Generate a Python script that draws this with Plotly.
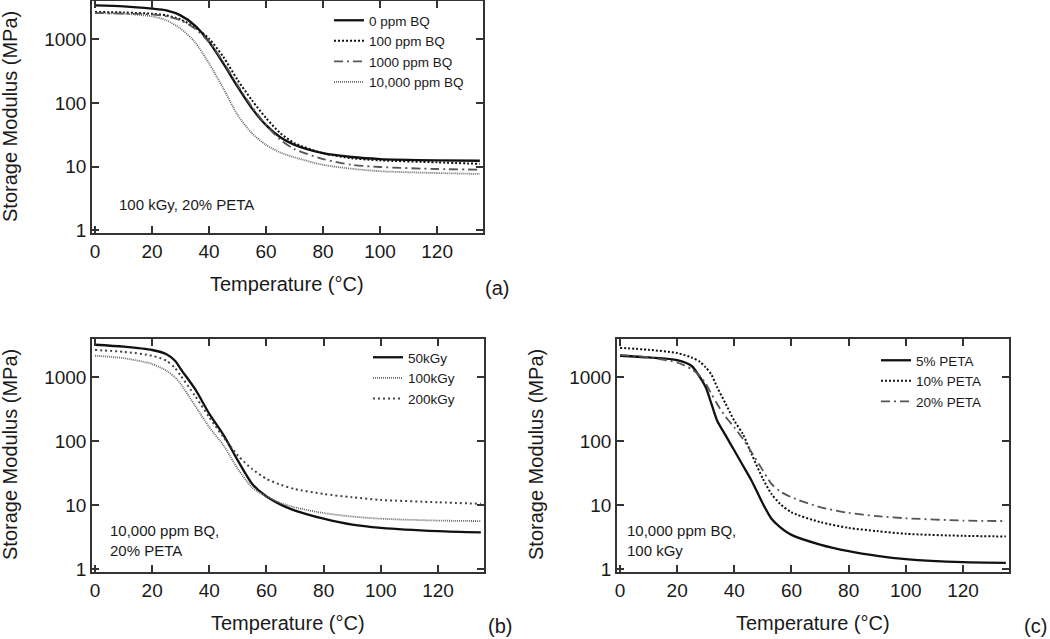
import plotly.graph_objects as go

W, H = 1050, 639

# ---------------- data ----------------
# Panel (a): 100 kGy, 20% PETA, varying BQ
T_a = [0, 10, 20, 25, 30, 35, 40, 45, 50, 55, 60, 65, 70, 80, 90, 100, 120, 135]
a_0ppm = [3390, 3280, 3020, 2840, 2370, 1650, 910, 418, 180, 83, 45, 29, 22, 16.3, 14.2, 13.2, 12.6, 12.4]
a_100ppm = [2680, 2630, 2510, 2370, 2040, 1550, 1020, 530, 230, 111, 58, 33.6, 23.4, 16.3, 13.6, 12.6, 11.7, 11.1]
a_1000ppm = [2580, 2520, 2460, 2290, 1990, 1470, 910, 444, 191, 88, 45, 26.4, 18.9, 13.2, 10.7, 9.9, 9.2, 9.0]
a_10000ppm = [2580, 2510, 2290, 1990, 1470, 910, 418, 170, 65, 33.6, 22, 16.7, 14, 10.7, 9.3, 8.5, 7.96, 7.7]

# Panel (b): 10,000 ppm BQ, 20% PETA, varying dose
T_b = [0, 10, 20, 25, 28, 30, 35, 40, 45, 50, 55, 60, 65, 70, 80, 90, 100, 120, 135]
b_50kGy = [3240, 3020, 2680, 2300, 1820, 1350, 660, 270, 125, 50, 21.7, 13.8, 10.3, 8.3, 6.2, 5.0, 4.46, 3.96, 3.78]
b_100kGy = [2180, 2000, 1620, 1270, 1000, 790, 362, 166, 86, 37, 19, 13.8, 10.9, 9.3, 7.6, 6.7, 6.2, 5.8, 5.7]
b_200kGy = [2680, 2510, 2180, 1820, 1400, 1060, 515, 238, 116, 60, 37, 26, 21, 18, 15.1, 13.4, 12.2, 11.2, 10.6]

# Panel (c): 10,000 ppm BQ, 100 kGy, varying PETA
T_c = [0, 10, 20, 25, 28, 30, 32, 34, 37, 40, 43, 46, 50, 53, 56, 60, 70, 80, 90, 100, 120, 135]
c_5 = [2180, 2050, 1870, 1520, 1000, 700, 385, 210, 123, 72, 42, 24.5, 10.6, 6.2, 4.6, 3.47, 2.45, 1.93, 1.63, 1.45, 1.30, 1.27]
c_10 = [2900, 2700, 2400, 2050, 1750, 1430, 1100, 700, 385, 210, 130, 64, 26, 15.1, 10.6, 7.8, 5.5, 4.46, 3.97, 3.6, 3.35, 3.27]
c_20 = [2250, 2050, 1710, 1350, 1050, 800, 550, 385, 240, 166, 109, 68, 35, 21.7, 16.6, 13.4, 9.4, 7.65, 6.8, 6.3, 5.8, 5.7]

x_ticks = [0, 20, 40, 60, 80, 100, 120]
y_ticks = [1, 10, 100, 1000]
y_tick_text = ["1", "10", "100", "1000"]

FONT = "Liberation Sans, Arial, sans-serif"
TXT = "#1a1a1a"


def px(x):
    return x / W


def py(y):
    return 1 - y / H


fig = go.Figure()

series = [
    # (x, y, name, xaxis, yaxis, legend, color, width, dash)
    (T_a, a_0ppm, "0 ppm BQ", "x", "y", "legend", "#111111", 2.3, "solid"),
    (T_a, a_100ppm, "100 ppm BQ", "x", "y", "legend", "#111111", 2.0, "2px,2px"),
    (T_a, a_1000ppm, "1000 ppm BQ", "x", "y", "legend", "#555555", 1.8, "9px,4px,2px,4px"),
    (T_a, a_10000ppm, "10,000 ppm BQ", "x", "y", "legend", "#6a6a6a", 1.8, "1px,1px"),
    (T_b, b_50kGy, "50kGy", "x2", "y2", "legend2", "#111111", 2.3, "solid"),
    (T_b, b_100kGy, "100kGy", "x2", "y2", "legend2", "#6a6a6a", 1.8, "1px,1px"),
    (T_b, b_200kGy, "200kGy", "x2", "y2", "legend2", "#444444", 2.0, "2px,3px"),
    (T_c, c_5, "5% PETA", "x3", "y3", "legend3", "#111111", 2.3, "solid"),
    (T_c, c_10, "10% PETA", "x3", "y3", "legend3", "#111111", 2.0, "2px,2px"),
    (T_c, c_20, "20% PETA", "x3", "y3", "legend3", "#555555", 1.8, "9px,4px,2px,4px"),
]

for xs, ys, name, xa, ya, lg, col, w, dash in series:
    fig.add_trace(go.Scatter(
        x=xs, y=ys, name=name, mode="lines", xaxis=xa, yaxis=ya, legend=lg,
        line=dict(color=col, width=w, dash=dash, shape="spline", smoothing=0.7),
        hoverinfo="skip",
    ))

axis_common = dict(
    showline=True, linecolor="#333333", linewidth=1.5, mirror="ticks",
    ticks="inside", ticklen=7, tickwidth=1.5, tickcolor="#333333",
    showgrid=False, zeroline=False, automargin=False,
    tickfont=dict(family=FONT, size=19, color=TXT),
)

xr = [-1.05, 136.1]
yr = [-0.04, 3.6]

dom_a_x = [px(92), px(483)]
dom_a_y = [py(233), py(1)]
dom_b_x = [px(92), px(484)]
dom_bc_y = [py(572), py(339)]
dom_c_x = [px(617), px(1009)]

fig.update_layout(
    xaxis=dict(domain=dom_a_x, range=xr, tickvals=x_ticks, anchor="y", **axis_common),
    yaxis=dict(domain=dom_a_y, type="log", range=yr,
               tickvals=y_ticks, ticktext=y_tick_text, anchor="x", **axis_common),
    xaxis2=dict(domain=dom_b_x, range=xr, tickvals=x_ticks, anchor="y2", **axis_common),
    yaxis2=dict(domain=dom_bc_y, type="log", range=yr, tickvals=y_ticks, ticktext=y_tick_text,
                anchor="x2", **axis_common),
    xaxis3=dict(domain=dom_c_x, range=xr, tickvals=x_ticks, anchor="y3", **axis_common),
    yaxis3=dict(domain=dom_bc_y, type="log", range=yr, tickvals=y_ticks, ticktext=y_tick_text,
                anchor="x3", **axis_common),
)

legend_common = dict(
    xanchor="left", yanchor="top", bgcolor="rgba(0,0,0,0)", borderwidth=0,
    font=dict(family=FONT, size=13.5, color=TXT), tracegroupgap=0, itemwidth=30,
)

fig.update_layout(
    legend=dict(x=px(329), y=py(5), **legend_common),
    legend2=dict(x=px(368), y=py(342), **legend_common),
    legend3=dict(x=px(876), y=py(345), **legend_common),
)

annos = [
    # axis titles
    dict(text="Storage Modulus (MPa)", x=px(10), y=py(117), textangle=-90, size=20),
    dict(text="Storage Modulus (MPa)", x=px(10), y=py(455), textangle=-90, size=20),
    dict(text="Storage Modulus (MPa)", x=px(536), y=py(455), textangle=-90, size=20),
    dict(text="Temperature (°C)", x=px(287), y=py(284), size=20),
    dict(text="Temperature (°C)", x=px(288), y=py(623), size=20),
    dict(text="Temperature (°C)", x=px(813), y=py(623), size=20),
    # panel labels
    dict(text="(a)", x=px(497), y=py(288), size=20),
    dict(text="(b)", x=px(500), y=py(626), size=20),
    dict(text="(c)", x=px(1035), y=py(626), size=20),
]
for a in annos:
    fig.add_annotation(
        text=a["text"], x=a["x"], y=a["y"], xref="paper", yref="paper",
        xanchor="center", yanchor="middle", showarrow=False,
        textangle=a.get("textangle", 0),
        font=dict(family=FONT, size=a["size"], color=TXT),
    )

notes = [
    ("100 kGy, 20% PETA", px(117), py(205)),
    ("10,000 ppm BQ,<br>20% PETA", px(108), py(540)),
    ("10,000 ppm BQ,<br>100 kGy", px(625), py(540)),
]
for t, x, y in notes:
    fig.add_annotation(
        text=t, x=x, y=y, xref="paper", yref="paper", xanchor="left", yanchor="middle",
        align="left", showarrow=False, font=dict(family=FONT, size=15, color=TXT),
    )

fig.update_layout(
    width=W, height=H, margin=dict(l=0, r=0, t=0, b=0, autoexpand=False),
    paper_bgcolor="white", plot_bgcolor="white", showlegend=True,
    font=dict(family=FONT, color=TXT),
)

# remove the default 8px page margin so the figure fills the window exactly
fig.write_html(
    "out.html",
    config={"displayModeBar": False},
    post_script="document.body.style.margin='0';document.body.style.overflow='hidden';",
)
